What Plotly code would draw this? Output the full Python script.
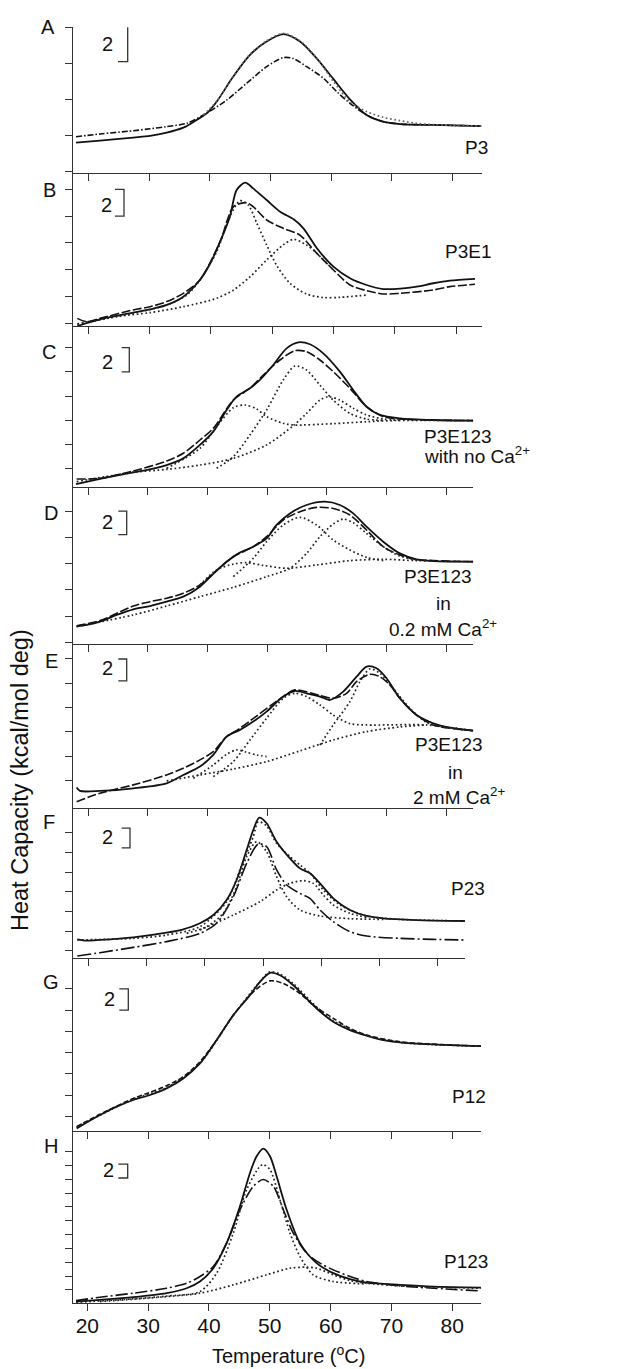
import plotly.graph_objects as go

# the page puts the plot 8 px in from the top-left corner, so the figure is
# 8 px smaller and every reference pixel position is shifted by 8
OFF = 8
W, H = 625 - OFF, 1369 - OFF
FONT = "Liberation Sans, Arial, sans-serif"
INK = "#111111"
AXIS = "#333333"

temp_ticks = [20, 30, 40, 50, 60, 70, 80]

# A: P3
a_solid_t = [17.97, 21.92, 27.41, 30.15, 32.90, 35.64, 37.84, 39.48, 41.13, 43.87, 46.62, 49.36, 52.11,
             54.85, 57.60, 60.34, 63.08, 65.83, 68.57, 71.32, 76.81, 84.7]
a_solid_cp = [1.61, 1.72, 1.89, 1.98, 2.16, 2.44, 2.87, 3.23, 3.88, 5.27, 6.47, 7.21, 7.62,
              7.21, 6.28, 5.14, 4.01, 3.14, 2.77, 2.64, 2.59, 2.53]
a_dash_t = [17.97, 21.92, 27.41, 30.15, 32.9, 36.19, 38.94, 42.78, 46.07, 49.36, 52.11, 53.75, 55.95,
            58.69, 60.89, 63.08, 65.83, 68.57, 71.32, 76.81, 84.7]
a_dash_cp = [1.94, 2.09, 2.27, 2.38, 2.50, 2.68, 3.14, 3.97, 4.90, 5.82, 6.32, 6.27, 5.82,
             5.18, 4.44, 3.79, 3.14, 2.77, 2.64, 2.59, 2.53]
a_fit_t = [38.94, 41.13, 43.87, 46.62, 49.36, 52.11, 54.85, 57.60, 60.34, 63.08, 65.83, 68.57, 71.32,
           74.06, 76.81, 84.7]
a_fit_cp = [3.14, 3.90, 5.30, 6.50, 7.25, 7.66, 7.25, 6.30, 5.0, 3.88, 3.33, 3.01, 2.83, 2.68, 2.61, 2.53]

# B: P3E1
b_solid_t = [18.2, 21.9, 27.3, 30.1, 32.8, 35.5, 38.2, 39.9, 41.5, 43.1, 44.2, 45.6, 46.9, 49.1, 51.3,
             53.5, 55.1, 57.3, 60.0, 62.7, 65.4, 68.1, 70.9, 73.6, 76.3, 79.0, 83.1]
b_solid_cp = [-0.2, 0.3, 0.8, 1.04, 1.37, 1.99, 3.23, 4.48, 6.09, 7.96, 9.95, 10.5, 10.07, 9.2, 8.33,
              7.76, 7.09, 5.60, 4.23, 3.36, 2.86, 2.56, 2.59, 2.74, 2.99, 3.18, 3.31]
b_dash_t = [18.2, 19.7, 21.9, 27.3, 30.1, 32.8, 35.5, 38.2, 41.5, 43.7, 45.8, 46.9, 49.1, 51.8, 54.5,
            57.3, 60.0, 62.7, 65.4, 68.1, 70.9, 76.3, 79.0, 83.1]
b_dash_cp = [0.37, 0.12, 0.37, 1.0, 1.24, 1.62, 2.24, 3.23, 6.09, 8.71, 9.0, 8.71, 7.71, 7.09, 6.59,
             5.22, 3.98, 2.86, 2.44, 2.19, 2.24, 2.49, 2.74, 2.91]
b_comp1_t = [18.2, 27.3, 32.8, 36.05, 38.2, 40.95, 43.1, 44.75, 46.1, 47.5, 49.1, 50.7, 52.9, 55.6,
             58.4, 61.1, 65.4]
b_comp1_cp = [-0.05, 0.75, 1.37, 2.11, 3.23, 5.35, 7.96, 9.15, 8.83, 7.46, 5.85, 4.35, 2.99, 2.19,
              1.92, 1.94, 2.11]
b_comp2_t = [18.2, 24.6, 30.1, 35.5, 40.95, 43.7, 46.4, 49.1, 51.8, 53.5, 55.6, 57.3, 60.0]
b_comp2_cp = [-0.05, 0.5, 0.8, 1.24, 1.87, 2.49, 3.48, 4.73, 5.85, 6.27, 5.85, 5.22, 3.98]

# C: P3E123, no Ca2+
c_solid_t = [17.93, 21.96, 27.55, 30.34, 33.14, 35.93, 38.73, 40.96, 43.2, 44.87, 47.11, 48.79, 51.02,
             53.26, 55.22, 57.17, 59.41, 62.2, 64.44, 66.67, 68.91, 72.26, 77.85, 84.56]
c_solid_cp = [-1.27, -0.85, -0.3, -0.06, 0.30, 0.85, 1.96, 3.06, 4.85, 5.95, 6.64, 7.33, 8.57,
              9.94, 10.44, 10.28, 9.53, 8.02, 6.50, 5.12, 4.44, 4.16, 4.02, 3.97]
c_dash_t = [18.04, 21.96, 27.55, 33.14, 35.93, 38.73, 40.96, 44.32, 47.11, 49.35, 52.14, 54.66, 56.61,
            58.85, 61.08, 63.88, 66.67, 69.47, 72.26, 84.56]
c_dash_cp = [-0.85, -0.8, -0.19, 0.63, 1.27, 2.37, 3.33, 5.67, 6.64, 7.74, 8.98, 9.75, 9.67,
             8.98, 8.02, 6.64, 5.12, 4.30, 4.10, 3.97]
c_comp1_t = [33.14, 38.73, 41.52, 44.32, 46.27, 48.23, 49.9, 52.7, 54.38, 61.08, 66.67, 72.26, 84.56]
c_comp1_cp = [0.03, 1.68, 3.47, 5.04, 5.26, 4.93, 4.30, 3.75, 3.61, 3.72, 3.88, 3.99, 3.97]
c_comp2_t = [41.52, 44.32, 47.11, 49.9, 52.7, 54.66, 56.61, 58.85, 61.08, 63.88, 66.67, 69.47]
c_comp2_cp = [0.03, 0.99, 2.78, 4.85, 7.33, 8.48, 8.15, 6.91, 5.67, 4.57, 4.10, 3.99]
c_comp3_t = [18.04, 27.55, 33.14, 38.73, 44.32, 49.9, 54.38, 56.61, 58.85, 60.25, 62.2, 64.44, 66.67,
             69.47, 72.26]
c_comp3_cp = [-1.07, -0.3, -0.06, 0.30, 0.85, 1.96, 3.55, 4.57, 5.67, 5.95, 5.67, 4.99, 4.44, 4.10, 3.99]

# D: P3E123, 0.2 mM Ca2+
d_solid_t = [18.04, 19.72, 21.96, 24.75, 27.55, 30.34, 33.14, 35.93, 38.73, 40.96, 43.2, 45.43, 47.67,
             49.9, 51.58, 53.82, 56.61, 59.69, 62.2, 64.44, 66.67, 69.47, 72.26, 75.06, 77.85, 84.56]
d_solid_cp = [1.22, 1.34, 1.59, 2.10, 2.53, 2.78, 3.11, 3.49, 4.25, 5.22, 6.15, 6.84, 7.29,
              7.92, 8.94, 9.82, 10.46, 10.71, 10.46, 9.82, 8.81, 7.67, 6.78, 6.33, 6.20, 6.15]
d_dash_t = [18.04, 21.96, 27.55, 30.34, 33.14, 35.93, 38.73, 40.96, 44.32, 47.67, 49.9, 52.7, 55.49,
            58.29, 61.08, 63.88, 66.67, 69.47, 72.26, 75.06, 84.56]
d_dash_cp = [1.27, 1.67, 2.78, 3.11, 3.37, 3.75, 4.38, 5.27, 6.53, 7.29, 8.05, 9.32, 9.95,
             10.28, 10.20, 9.70, 8.56, 7.29, 6.66, 6.33, 6.15]
d_comp1_t = [38.73, 41.52, 44.32, 46.55, 49.35, 53.26, 58.29, 63.88, 69.47, 75.06, 84.56]
d_comp1_cp = [4.38, 5.52, 5.97, 6.08, 5.87, 5.65, 5.90, 6.23, 6.33, 6.23, 6.15]
d_comp2_t = [44.32, 47.67, 49.9, 52.7, 55.49, 58.29, 61.08, 63.88, 66.67, 69.47]
d_comp2_cp = [5.01, 6.41, 7.67, 8.94, 9.52, 8.94, 7.80, 7.04, 6.48, 6.23]
d_comp3_t = [18.04, 27.55, 33.14, 38.73, 44.32, 49.9, 53.82, 56.61, 58.85, 61.08, 62.76, 64.44, 66.67,
             69.47, 72.26, 75.06]
d_comp3_cp = [1.22, 2.10, 2.78, 3.49, 4.20, 5.01, 5.65, 6.78, 8.05, 9.01, 9.39, 9.11, 8.30,
              7.29, 6.58, 6.28]

# E: P3E123, 2 mM Ca2+
e_solid_t = [18.04, 18.6, 21.96, 27.55, 33.14, 35.93, 38.73, 40.96, 43.2, 45.43, 47.67, 49.9, 52.7,
             54.66, 56.61, 58.85, 60.53, 62.76, 65.0, 66.67, 68.35, 70.03, 72.26, 75.06, 77.85, 80.65, 84.56]
e_solid_cp = [-0.60, -0.88, -0.88, -0.66, -0.25, 0.44, 1.13, 2.09, 3.60, 4.15, 4.84, 5.66, 6.90,
              7.36, 7.17, 6.90, 6.62, 7.31, 8.54, 9.37, 9.23, 8.41, 6.76, 5.38, 4.70, 4.34, 4.09]
e_dash_t = [18.04, 21.96, 27.55, 33.14, 35.93, 38.73, 40.96, 43.2, 45.43, 52.7, 54.66, 58.85, 61.08,
            63.32, 65.0, 67.23, 68.91, 70.59, 72.26, 75.06, 77.85, 84.56]
e_dash_cp = [-1.76, -1.07, -0.38, 0.44, 0.99, 1.68, 2.36, 3.60, 4.29, 6.90, 7.45, 6.98, 6.76,
             7.17, 8.13, 8.74, 8.54, 7.86, 6.76, 5.38, 4.56, 4.09]
e_comp1_t = [37.61, 40.96, 43.2, 44.87, 46.55, 48.23, 49.9]
e_comp1_cp = [0.16, 1.26, 2.14, 2.50, 2.31, 2.09, 1.95]
e_base_t = [33.14, 38.73, 44.32, 49.9, 55.49, 61.08, 66.67, 72.26, 76.74]
e_base_cp = [-0.05, 0.44, 0.93, 1.54, 2.42, 3.32, 4.01, 4.40, 4.56]
e_comp2_t = [40.96, 44.32, 47.11, 49.9, 52.7, 54.66, 56.61, 58.85, 61.08, 63.88, 66.67, 76.74, 84.56]
e_comp2_cp = [0.30, 1.54, 3.32, 5.11, 6.76, 7.17, 6.90, 6.21, 5.38, 4.67, 4.56, 4.56, 4.09]
e_comp3_t = [58.85, 61.08, 63.88, 65.56, 67.23, 68.91, 71.15, 73.94, 76.74, 80.65, 84.56]
e_comp3_cp = [2.91, 4.56, 6.48, 8.13, 9.18, 8.82, 7.58, 5.93, 4.78, 4.29, 4.09]

# F: P23
f_solid_t = [18.11, 19.71, 22.0, 27.73, 33.45, 36.31, 39.18, 41.47, 43.75, 45.47, 47.19, 48.33, 49.36,
             50.62, 52.34, 54.63, 56.35, 58.07, 59.78, 62.07, 64.93, 67.80, 70.66, 76.38, 84.68]
f_solid_cp = [1.18, 1.05, 1.12, 1.39, 1.86, 2.20, 2.81, 3.65, 5.17, 7.20, 10.24, 12.27, 13.52,
              12.95, 11.09, 9.40, 8.38, 7.88, 6.86, 5.34, 4.16, 3.55, 3.31, 3.14, 3.04]
f_dash_t = [18.11, 22.0, 27.73, 33.45, 39.18, 42.04, 44.9, 47.19, 49.19, 50.62, 52.34, 54.06, 56.35,
            58.07, 59.78, 62.07, 64.93, 67.80, 73.52, 79.24, 84.68]
f_dash_cp = [-0.51, -0.17, 0.37, 0.95, 1.79, 2.81, 5.51, 8.89, 10.85, 10.58, 8.22, 6.69, 5.85,
             5.34, 4.16, 2.97, 1.96, 1.52, 1.28, 1.18, 1.12]
f_fit_t = [18.11, 27.73, 33.45, 39.18, 43.75, 46.04, 48.33, 49.19, 50.62, 52.34, 54.63, 56.35, 58.07,
           60.36, 63.22, 67.80, 73.52, 84.68]
f_fit_cp = [1.12, 1.28, 1.62, 2.47, 5.0, 8.22, 11.6, 13.1, 12.68, 10.92, 9.57, 8.72, 7.88,
            6.19, 4.67, 3.55, 3.21, 3.04]
f_comp1_t = [36.89, 40.32, 43.18, 45.47, 47.19, 48.91, 50.62, 52.34, 54.06, 56.35, 59.78, 64.93, 70.66]
f_comp1_cp = [1.79, 2.47, 3.82, 6.52, 9.57, 11.09, 10.07, 7.54, 5.51, 4.16, 3.55, 3.28, 3.21]
f_comp2_t = [39.18, 44.9, 49.48, 52.34, 54.63, 56.92, 58.64, 60.36, 62.07, 64.93, 67.80]
f_comp2_cp = [2.13, 3.65, 5.0, 6.19, 6.86, 7.13, 6.86, 5.68, 4.67, 3.82, 3.41]

# G: P12
g_solid_t = [18.25, 22.08, 24.82, 27.56, 30.30, 33.04, 35.78, 38.52, 41.26, 44.0, 46.74, 48.38, 50.03,
             51.67, 53.86, 55.51, 57.70, 60.44, 63.18, 65.92, 68.66, 71.40, 76.88, 84.71]
g_solid_cp = [-1.13, 0.13, 0.91, 1.54, 2.01, 2.63, 3.57, 4.98, 7.18, 9.53, 11.41, 12.66, 13.51,
              13.29, 12.35, 11.41, 10.16, 8.90, 8.12, 7.59, 7.18, 6.96, 6.77, 6.61]
g_dash_t = [18.25, 22.08, 27.56, 30.30, 33.04, 35.78, 38.52, 41.26, 44.0, 47.29, 50.03, 52.22, 54.96,
            57.15, 60.44, 63.18, 65.92, 71.40, 84.71]
g_dash_cp = [-0.97, 0.19, 1.69, 2.26, 2.88, 3.73, 5.14, 7.18, 9.53, 11.72, 12.76, 12.51, 11.57,
             10.47, 9.22, 8.28, 7.65, 7.02, 6.61]
g_fit_t = [18.25, 27.56, 33.04, 38.52, 44.0, 48.38, 50.03, 51.67, 53.86, 57.70, 60.44, 65.92, 71.40, 84.71]
g_fit_cp = [-1.0, 1.6, 2.7, 5.0, 9.5, 12.7, 13.6, 13.4, 12.5, 10.3, 9.0, 7.6, 6.96, 6.61]

# H: P123
h_solid_t = [18.14, 22.08, 27.56, 33.04, 36.33, 38.52, 40.71, 42.90, 45.10, 46.74, 47.84, 48.93, 50.03,
             51.12, 52.77, 54.96, 57.70, 60.44, 63.18, 65.92, 71.40, 76.88, 84.71]
h_solid_cp = [-1.69, -1.45, -1.06, -0.48, 0.24, 1.21, 3.14, 6.77, 12.09, 16.93, 19.35, 20.46, 19.35,
              16.45, 11.61, 6.77, 3.87, 2.42, 1.55, 1.06, 0.73, 0.48, 0.34]
h_dash_t = [18.14, 22.08, 27.56, 33.04, 36.33, 38.52, 40.71, 42.90, 45.10, 47.29, 48.93, 50.58, 52.22,
            53.86, 56.05, 58.25, 60.44, 63.18, 65.92, 71.40, 76.88, 84.71]
h_dash_cp = [-1.55, -1.06, -0.48, 0.24, 0.97, 1.94, 3.39, 6.77, 11.61, 15.0, 15.97, 15.0, 11.61,
             8.22, 5.32, 3.87, 2.90, 1.94, 1.21, 0.58, 0.24, -0.15]
h_comp1_t = [18.14, 27.56, 33.04, 38.52, 41.26, 44.0, 46.19, 48.38, 48.93, 50.03, 51.67, 53.32, 54.96,
             57.15, 60.44, 65.92]
h_comp1_cp = [-1.8, -1.3, -0.9, -0.24, 2.42, 8.22, 14.51, 17.9, 18.14, 17.42, 13.06, 8.22, 4.84,
              2.18, 1.21, 0.87]
h_comp2_t = [22.08, 33.04, 38.52, 44.0, 49.48, 53.32, 56.05, 57.70, 60.44, 63.18, 65.92, 71.40, 84.71]
h_comp2_cp = [-1.69, -0.97, -0.48, 0.73, 2.18, 3.14, 3.29, 3.14, 2.18, 1.35, 0.97, 0.58, 0.24]

# panel frames (reference pixel positions of axis lines) and labels
panels = [
    dict(letter="A", top=27.3, bottom=172.7, right=482, xr=[17.43, 84.82], yr=[-0.055, 8.0], ymax=8,
         bar=(118, 127.7, 6.1, 8.1), two=(107, 44), letter_xy=(48, 27),
         dash="6px,2px,1.5px,2px",
         solid=(a_solid_t, a_solid_cp), dashed=(a_dash_t, a_dash_cp),
         dotted=[(a_fit_t, a_fit_cp)]),
    dict(letter="B", top=172.7, bottom=326, right=482.3, xr=[17.45, 84.29], yr=[-0.2, 11.24], ymax=10,
         bar=(115, 124, 8, 10), two=(106, 205), letter_xy=(50, 190),
         dash="9px,2.5px",
         solid=(b_solid_t, b_solid_cp), dashed=(b_dash_t, b_dash_cp),
         dotted=[(b_comp1_t, b_comp1_cp), (b_comp2_t, b_comp2_cp)]),
    dict(letter="C", top=326, bottom=486.7, right=473.3, xr=[17.38, 84.58], yr=[-1.49, 11.79], ymax=10,
         bar=(121.7, 129.3, 8, 10), two=(107, 362), letter_xy=(49, 352),
         dash="9px,2.5px",
         solid=(c_solid_t, c_solid_cp), dashed=(c_dash_t, c_dash_cp),
         dotted=[(c_comp1_t, c_comp1_cp), (c_comp2_t, c_comp2_cp), (c_comp3_t, c_comp3_cp)]),
    dict(letter="D", top=486.7, bottom=644.3, right=473.3, xr=[17.38, 84.58], yr=[-0.13, 11.85], ymax=10,
         bar=(118.3, 126.7, 8.2, 10), two=(107, 522), letter_xy=(51, 513),
         dash="9px,2.5px",
         solid=(d_solid_t, d_solid_cp), dashed=(d_dash_t, d_dash_cp),
         dotted=[(d_comp1_t, d_comp1_cp), (d_comp2_t, d_comp2_cp), (d_comp3_t, d_comp3_cp)]),
    dict(letter="E", top=644.3, bottom=808.3, right=473.3, xr=[17.38, 84.58], yr=[-2.31, 11.21], ymax=10,
         bar=(118.3, 126.7, 8.2, 10), two=(107, 668), letter_xy=(51, 661),
         dash="9px,2.5px",
         solid=(e_solid_t, e_solid_cp), dashed=(e_dash_t, e_dash_cp),
         dotted=[(e_comp1_t, e_comp1_cp), (e_base_t, e_base_cp), (e_comp2_t, e_comp2_cp),
                 (e_comp3_t, e_comp3_cp)]),
    dict(letter="F", top=808.3, bottom=957.7, right=465, xr=[17.32, 84.69], yr=[-0.68, 14.47], ymax=12,
         bar=(121.7, 130, 10.45, 12.45), two=(107, 837), letter_xy=(49, 822),
         dash="14px,3px,2px,3px",
         solid=(f_solid_t, f_solid_cp), dashed=(f_dash_t, f_dash_cp),
         dotted=[(f_fit_t, f_fit_cp), (f_comp1_t, f_comp1_cp), (f_comp2_t, f_comp2_cp)]),
    dict(letter="G", top=957.7, bottom=1131, right=481, xr=[17.6, 84.72], yr=[-1.38, 14.94], ymax=12,
         bar=(119.3, 128.3, 10, 12), two=(109, 999), letter_xy=(51, 982),
         dash="5px,2.5px",
         solid=(g_solid_t, g_solid_cp), dashed=(g_dash_t, g_dash_cp),
         dotted=[(g_fit_t, g_fit_cp)]),
    dict(letter="H", top=1131, bottom=1303.3, right=481, xr=[17.6, 84.72], yr=[-1.94, 23.0], ymax=20,
         bar=(118.3, 127.7, 16.2, 18.2), two=(108, 1170), letter_xy=(51, 1146),
         dash="12px,3px,2px,3px",
         solid=(h_solid_t, h_solid_cp), dashed=(h_dash_t, h_dash_cp),
         dotted=[(h_comp1_t, h_comp1_cp), (h_comp2_t, h_comp2_cp)]),
]

# sample names on the right: (text, x px, y px, anchor)
side_labels = [
    ("P3", 490, 148, "right"),
    ("P3E1", 493, 252, "right"),
    ("P3E123", 422, 437, "left"),
    ("with no Ca<sup>2+</sup>", 422, 455, "left"),
    ("P3E123", 438, 576, "center"),
    ("in", 443, 603, "center"),
    ("0.2 mM Ca<sup>2+</sup>", 443, 628, "center"),
    ("P3E123", 449, 745, "center"),
    ("in", 455, 772, "center"),
    ("2 mM Ca<sup>2+</sup>", 459, 796, "center"),
    ("P23", 487, 888, "right"),
    ("P12", 488, 1096, "right"),
    ("P123", 490, 1261, "right"),
]


def px(x):
    return (x - OFF) / W


def py(y):
    return 1 - (y - OFF) / H


fig = go.Figure()
layout = {}
shapes = []
annotations = []

for k, p in enumerate(panels, start=1):
    sfx = "" if k == 1 else str(k)
    xref, yref = "x" + sfx, "y" + sfx

    fig.add_trace(go.Scatter(x=p["solid"][0], y=p["solid"][1], mode="lines", xaxis=xref, yaxis=yref,
                             line=dict(color=INK, width=1.8, shape="spline", smoothing=0.8),
                             showlegend=False, hoverinfo="skip"))
    fig.add_trace(go.Scatter(x=p["dashed"][0], y=p["dashed"][1], mode="lines", xaxis=xref, yaxis=yref,
                             line=dict(color=INK, width=1.6, dash=p["dash"], shape="spline", smoothing=0.8),
                             showlegend=False, hoverinfo="skip"))
    for t, cp in p["dotted"]:
        fig.add_trace(go.Scatter(x=t, y=cp, mode="lines", xaxis=xref, yaxis=yref,
                                 line=dict(color="#222222" if k > 1 else "#666666", width=1.7,
                                           dash="1.7px,2.6px", shape="spline", smoothing=0.8),
                                 showlegend=False, hoverinfo="skip"))

    layout["xaxis" + sfx] = dict(
        domain=[px(72.7), px(p["right"])], range=p["xr"], anchor=yref,
        showline=True, linecolor=AXIS, linewidth=1.2,
        ticks="outside", ticklen=7, tickwidth=1.2, tickcolor=AXIS,
        tickvals=temp_ticks, showticklabels=(k == len(panels)), ticklabelstandoff=-4,
        tickfont=dict(family=FONT, size=21, color=INK),
        showgrid=False, zeroline=False,
    )
    layout["yaxis" + sfx] = dict(
        domain=[py(p["bottom"]), py(p["top"])], range=p["yr"], anchor=xref,
        showline=True, linecolor=AXIS, linewidth=1.2,
        ticks="outside", ticklen=7, tickwidth=1.2, tickcolor=AXIS,
        tickvals=list(range(0, p["ymax"] + 1, 2)), showticklabels=False,
        showgrid=False, zeroline=False,
    )

    # "2" scale bracket
    x0, x1, y0, y1 = p["bar"]
    shapes.append(dict(type="path", xref="paper", yref=yref,
                       path=f"M {px(x0)},{y1} L {px(x1)},{y1} L {px(x1)},{y0} L {px(x0)},{y0}",
                       line=dict(color=AXIS, width=1.3)))
    annotations.append(dict(text="2", x=px(p["two"][0]), y=py(p["two"][1]), xref="paper", yref="paper",
                            showarrow=False, xanchor="center", yanchor="middle",
                            font=dict(family=FONT, size=20, color=INK)))
    annotations.append(dict(text=p["letter"], x=px(p["letter_xy"][0]), y=py(p["letter_xy"][1]),
                            xref="paper", yref="paper", showarrow=False,
                            xanchor="center", yanchor="middle",
                            font=dict(family=FONT, size=20, color=INK)))

for text, x, y, anchor in side_labels:
    annotations.append(dict(text=text, x=px(x), y=py(y), xref="paper", yref="paper", showarrow=False,
                            xanchor=anchor, yanchor="middle", align=anchor,
                            font=dict(family=FONT, size=19, color=INK)))

annotations.append(dict(text="Temperature (<sup>o</sup>C)", x=px(288), y=0, xref="paper", yref="paper",
                        showarrow=False, xanchor="center", yanchor="bottom",
                        font=dict(family=FONT, size=20, color=INK)))
annotations.append(dict(text="Heat Capacity (kcal/mol deg)", x=px(20), y=py(780), xref="paper", yref="paper",
                        showarrow=False, textangle=-90, xanchor="center", yanchor="middle",
                        font=dict(family=FONT, size=23.5, color=INK)))

fig.update_layout(
    width=W, height=H,
    margin=dict(l=0, r=0, t=0, b=0),
    paper_bgcolor="white", plot_bgcolor="white",
    shapes=shapes, annotations=annotations,
    showlegend=False,
    **layout,
)

fig.write_html("out.html")
